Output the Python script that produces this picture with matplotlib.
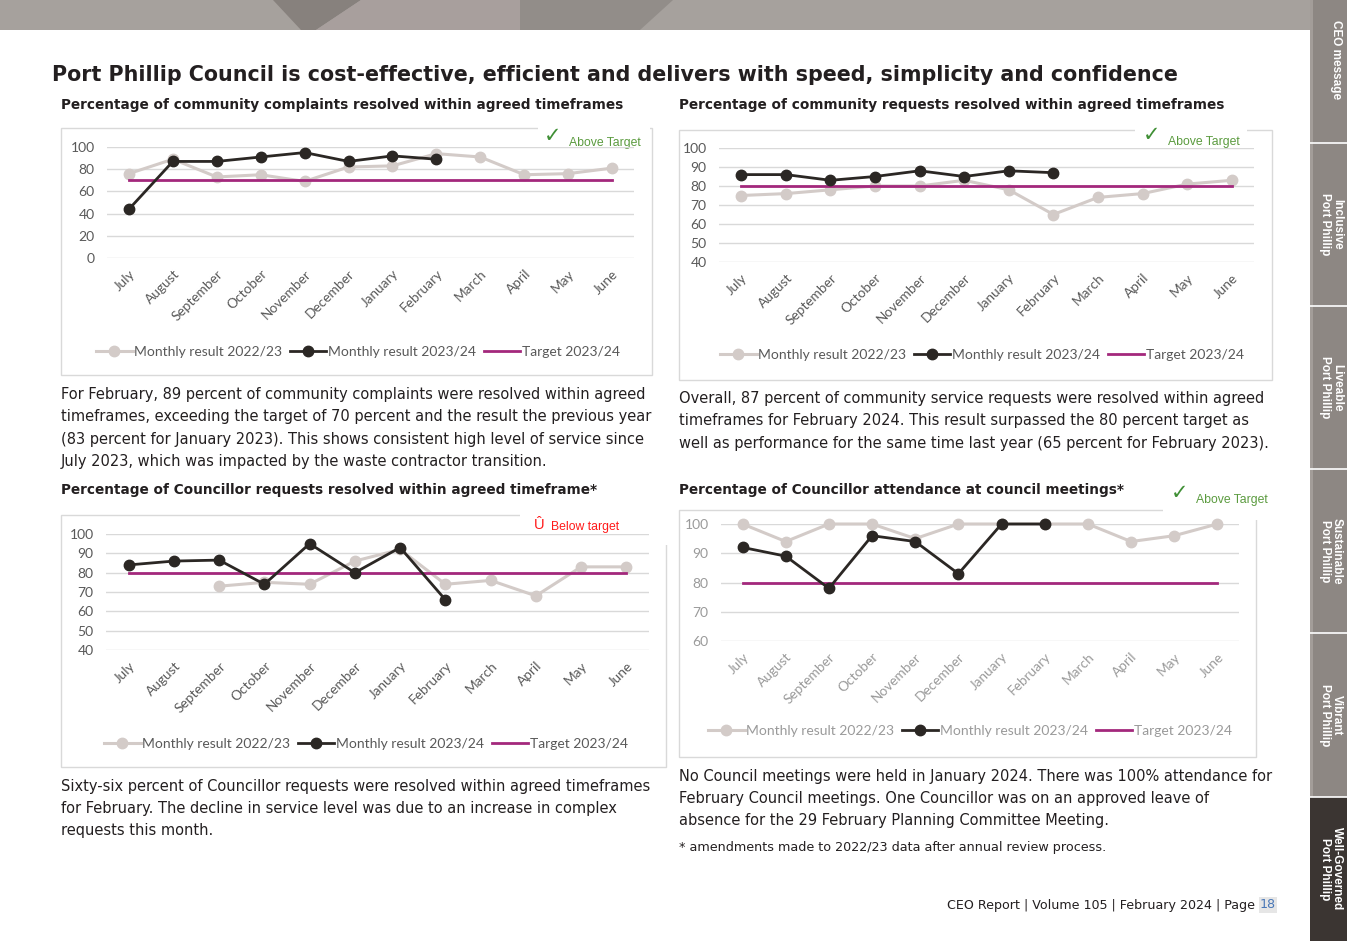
import numpy as np
import matplotlib
matplotlib.use("Agg")
import matplotlib.pyplot as plt
from matplotlib.patches import Rectangle, Polygon

W, H = 1347, 941

months = ["July", "August", "September", "October", "November", "December",
          "January", "February", "March", "April", "May", "June"]

# community complaints
complaints_2223 = [76, 89, 73, 75, 69, 82, 83, 94, 91, 75, 76, 81]
complaints_2324 = [44, 87, 87, 91, 95, 87, 92, 89]
complaints_target = 70

# community requests
requests_2223 = [75, 76, 78, 80, 80, 83, 78, 65, 74, 76, 81, 83]
requests_2324 = [86, 86, 83, 85, 88, 85, 88, 87]
requests_target = 80

# Councillor requests
councillor_2223 = [np.nan, np.nan, 73, 75, 74, 86, 92, 74, 76, 68, 83, 83]
councillor_2324 = [84, 86, 86.5, 74, 95, 80, 93, 66]
councillor_target = 80

# Councillor attendance
attendance_2223 = [100, 94, 100, 100, 95, 100, 100, 100, 100, 94, 96, 100]
attendance_2324 = [92, 89, 78, 96, 94, 83, 100, 100]
attendance_target = 80

tab_labels = ["CEO message", "Inclusive\nPort Phillip", "Liveable\nPort Phillip",
              "Sustainable\nPort Phillip", "Vibrant\nPort Phillip",
              "Well-Governed\nPort Phillip"]
tab_edges = [0, 143, 306, 469, 633, 797, 941]

LIGHT = "#d3cbc8"
DARK = "#2b2724"
TARGET = "#a3287c"
GRID = "#d9d9d9"
TICK = "#595959"
PAGE_FONT = "DejaVu Sans"
CHART_FONT = "Lato"

fig = plt.figure(figsize=(W / 100, H / 100), dpi=100)
fig.patch.set_facecolor("white")

# page background axes in pixel coordinates
bg = fig.add_axes([0, 0, 1, 1])
bg.set_xlim(0, W)
bg.set_ylim(H, 0)
bg.axis("off")

# top banner
bg.add_patch(Rectangle((0, 0), 1310, 30, color="#a6a19d", lw=0))
bg.add_patch(Polygon([(273, 0), (361, 0), (316, 30), (301, 30)], color="#87817d", lw=0))
bg.add_patch(Polygon([(361, 0), (520, 0), (520, 30), (316, 30)], color="#a89f9d", lw=0))
bg.add_patch(Polygon([(520, 0), (673, 0), (640, 30), (520, 30)], color="#928d89", lw=0))

# side tabs
for i, lab in enumerate(tab_labels):
    y0, y1 = tab_edges[i], tab_edges[i + 1]
    col = "#3b3532" if i == len(tab_labels) - 1 else "#8d8783"
    bg.add_patch(Rectangle((1310, y0), 37, y1 - y0, color=col, lw=0))
    if i < len(tab_labels) - 1:
        bg.add_patch(Rectangle((1310, y0), 3, y1 - y0, color="#a39d99", lw=0))
    if i > 0:
        bg.plot([1310, 1347], [y0, y0], color="white", lw=1.2)
    cy = 60 if i == 0 else (y0 + y1) / 2
    cx = 1336 if i == 0 else 1331
    bg.text(cx, cy, lab, rotation=-90, ha="center", va="center", color="white",
            fontsize=8.5, fontweight="bold", family="Liberation Sans",
            linespacing=1.0)

# title
bg.text(52, 75, "Port Phillip Council is cost-effective, efficient and delivers with speed, simplicity and confidence",
        fontsize=14.9, fontweight="bold", family=PAGE_FONT, color="#231f20", va="center")

subtitles = [
    (61, 105, "Percentage of community complaints resolved within agreed timeframes"),
    (679, 105, "Percentage of community requests resolved within agreed timeframes"),
    (61, 490, "Percentage of Councillor requests resolved within agreed timeframe*"),
    (679, 490, "Percentage of Councillor attendance at council meetings*"),
]
for x, y, s in subtitles:
    bg.text(x, y, s, fontsize=9.8, fontweight="bold", family=PAGE_FONT, color="#231f20", va="center")

paragraphs = [
    (61, 395, ["For February, 89 percent of community complaints were resolved within agreed",
               "timeframes, exceeding the target of 70 percent and the result the previous year",
               "(83 percent for January 2023). This shows consistent high level of service since",
               "July 2023, which was impacted by the waste contractor transition."]),
    (679, 399, ["Overall, 87 percent of community service requests were resolved within agreed",
                "timeframes for February 2024. This result surpassed the 80 percent target as",
                "well as performance for the same time last year (65 percent for February 2023)."]),
    (61, 787, ["Sixty-six percent of Councillor requests were resolved within agreed timeframes",
               "for February. The decline in service level was due to an increase in complex",
               "requests this month."]),
    (679, 776, ["No Council meetings were held in January 2024. There was 100% attendance for",
                "February Council meetings. One Councillor was on an approved leave of",
                "absence for the 29 February Planning Committee Meeting."]),
]
for x, y, lines in paragraphs:
    for k, line in enumerate(lines):
        bg.text(x, y + 22 * k, line, fontsize=10.5, family=PAGE_FONT, color="#231f20", va="center")

bg.text(679, 847, "* amendments made to 2022/23 data after annual review process.",
        fontsize=9.2, family=PAGE_FONT, color="#231f20", va="center")

# footer
bg.text(1276, 905, "18", fontsize=9.1, family=PAGE_FONT, color="#4a78b8", ha="right", va="center",
        bbox=dict(boxstyle="square,pad=0.1", fc="#e6e6e6", ec="none"))
bg.text(1255, 905, "CEO Report | Volume 105 | February 2024 | Page", fontsize=9.1, family=PAGE_FONT,
        color="#231f20", ha="right", va="center")

# chart frames
frames = [(61, 128, 652, 375), (679, 130, 1272, 380), (61, 515, 666, 767), (679, 510, 1256, 757)]
for x0, y0, x1, y1 in frames:
    bg.add_patch(Rectangle((x0, y0), x1 - x0, y1 - y0, fill=False, ec=GRID, lw=1))

# badges (white patches over frame corners)
bg.add_patch(Rectangle((538, 118), 112, 24, color="white", lw=0))
bg.add_patch(Rectangle((1135, 120), 112, 24, color="white", lw=0))
bg.add_patch(Rectangle((520, 508), 150, 37, color="white", lw=0))
bg.add_patch(Rectangle((1163, 480), 112, 40, color="white", lw=0))

for cx, cy, tx, ty in [(553, 136, 569, 143), (1152, 135, 1168, 142), (1180, 493, 1196, 500)]:
    bg.text(cx, cy, "\u2713", fontsize=15, color="#3f8f35", ha="center", va="center", family="DejaVu Sans")
    bg.text(tx, ty, "Above Target", fontsize=8.8, color="#5b9b3f", va="center", family="Liberation Sans")
bg.text(539, 525, "Û", fontsize=10.5, color="#ff1a1a", ha="center", va="center", family="Liberation Sans")
bg.text(551, 527, "Below target", fontsize=8.8, color="#ff1a1a", va="center", family="Liberation Sans")


def add_px_axes(x0, y0, x1, y1):
    return fig.add_axes([x0 / W, 1 - y1 / H, (x1 - x0) / W, (y1 - y0) / H])


def draw_chart(box, yticks, prev, curr, target, legend_xy, faded=False):
    ax = add_px_axes(*box)
    x = np.arange(len(months))
    tick_col = "#9a9a9a" if faded else TICK
    ax.plot(x, prev, color=LIGHT, lw=2.2, marker="o", ms=7.5, label="Monthly result 2022/23",
            zorder=2, clip_on=False)
    ax.plot(x, [target] * len(months), color=TARGET, lw=2, label="Target 2023/24", zorder=3)
    ax.plot(x[:len(curr)], curr, color=DARK, lw=2, marker="o", ms=7.5,
            label="Monthly result 2023/24", zorder=4, clip_on=False)
    ax.set_xlim(-0.5, len(months) - 0.5)
    ax.set_ylim(yticks[0], yticks[-1])
    ax.set_yticks(yticks)
    ax.set_xticks(x)
    ax.set_xticklabels(months, rotation=45, ha="right", rotation_mode="anchor")
    ax.grid(axis="y", color=GRID, lw=1)
    ax.set_axisbelow(True)
    for s in ax.spines.values():
        s.set_visible(False)
    ax.tick_params(axis="both", length=0, labelcolor=tick_col)
    ax.tick_params(axis="y", pad=9, labelsize=10)
    ax.tick_params(axis="x", pad=7, labelsize=9.8)
    for t in ax.get_xticklabels() + ax.get_yticklabels():
        t.set_family(CHART_FONT)
    ax.patch.set_alpha(0)
    h, l = ax.get_legend_handles_labels()
    order = [0, 2, 1]
    leg = ax.legend([h[i] for i in order], [l[i] for i in order], loc="center",
                    bbox_to_anchor=(legend_xy[0] / W, 1 - legend_xy[1] / H),
                    bbox_transform=fig.transFigure, ncol=3, frameon=False,
                    handlelength=2.6, handletextpad=0.1, columnspacing=0.6,
                    prop={"family": CHART_FONT, "size": 10})
    for t in leg.get_texts():
        t.set_color(tick_col)
    return ax


draw_chart((107, 147, 634, 258), [0, 20, 40, 60, 80, 100], complaints_2223, complaints_2324,
           complaints_target, (358, 352))
draw_chart((719, 148, 1254, 262), [40, 50, 60, 70, 80, 90, 100], requests_2223, requests_2324,
           requests_target, (982, 355))
draw_chart((106, 534, 649, 650), [40, 50, 60, 70, 80, 90, 100], councillor_2223, councillor_2324,
           councillor_target, (366, 744))
draw_chart((721, 524, 1239, 641), [60, 70, 80, 90, 100], attendance_2223, attendance_2324,
           attendance_target, (970, 731), faded=True)

fig.savefig("out.png", dpi=100, facecolor="white")
